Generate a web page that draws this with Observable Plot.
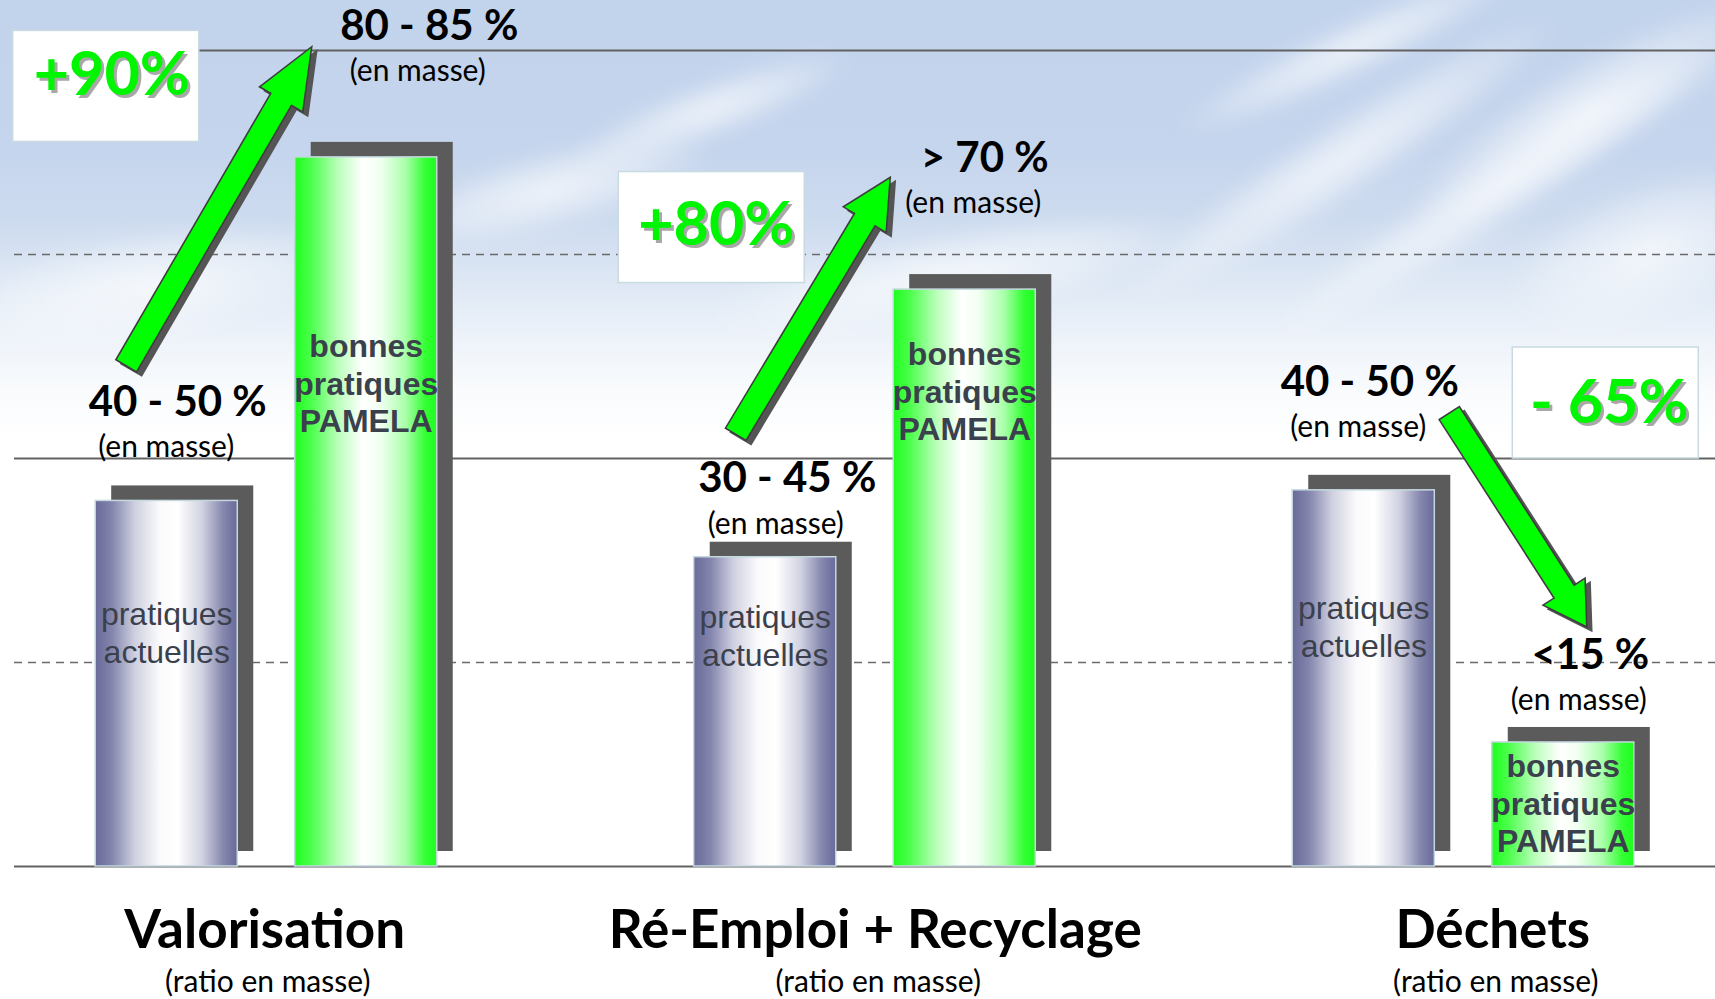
<!DOCTYPE html>
<html>
<head>
<meta charset="utf-8">
<script src="https://cdn.jsdelivr.net/npm/d3@7"></script>
<script src="https://cdn.jsdelivr.net/npm/@observablehq/plot@0.6"></script>
<style>
  html, body { margin: 0; padding: 0; width: 1715px; height: 999px; overflow: hidden; background: #fff; }
  #sky { position: absolute; left: 0; top: 0; width: 1715px; height: 470px; overflow: hidden;
    background: linear-gradient(to bottom, #c2d3ec 0px, #c5d5ed 150px, #cddbef 220px, #dde7f4 280px, #eef3fa 340px, #f9fbfd 390px, #ffffff 440px); }
  .cloud { position: absolute; border-radius: 50%; background: radial-gradient(ellipse at center, rgba(255,255,255,0.7) 0%, rgba(255,255,255,0.3) 45%, rgba(255,255,255,0) 70%); filter: blur(8px); }
  #chart { position: absolute; left: 0; top: 0; }
</style>
</head>
<body>
<div id="sky">
  <div class="cloud" style="left:1080px;top:120px;width:520px;height:80px;transform:rotate(-33deg)"></div>
  <div class="cloud" style="left:1230px;top:160px;width:520px;height:70px;transform:rotate(-33deg)"></div>
  <div class="cloud" style="left:1380px;top:60px;width:420px;height:100px;transform:rotate(-30deg)"></div>
  <div class="cloud" style="left:1160px;top:20px;width:380px;height:60px;transform:rotate(-25deg)"></div>
  <div class="cloud" style="left:1500px;top:180px;width:300px;height:140px;transform:rotate(-20deg)"></div>
  <div class="cloud" style="left:-60px;top:230px;width:420px;height:110px;transform:rotate(-8deg)"></div>
  <div class="cloud" style="left:380px;top:150px;width:340px;height:80px;transform:rotate(-15deg)"></div>
  <div class="cloud" style="left:560px;top:80px;width:300px;height:60px;transform:rotate(-20deg)"></div>
  <div class="cloud" style="left:700px;top:230px;width:500px;height:90px;transform:rotate(-10deg)"></div>
</div>
<svg width="0" height="0" style="position:absolute">
  <defs>
    <linearGradient id="gradActuelles" x1="0" x2="1" y1="0" y2="0">
      <stop offset="0%" stop-color="#686a99"/>
      <stop offset="12%" stop-color="#8486ad"/>
      <stop offset="28%" stop-color="#cfd0e0"/>
      <stop offset="45%" stop-color="#fafafc"/>
      <stop offset="58%" stop-color="#ffffff"/>
      <stop offset="75%" stop-color="#d2d3e2"/>
      <stop offset="90%" stop-color="#8688ae"/>
      <stop offset="100%" stop-color="#686a99"/>
    </linearGradient>
    <linearGradient id="gradBonnes" x1="0" x2="1" y1="0" y2="0">
      <stop offset="0%" stop-color="#1eff1e"/>
      <stop offset="12%" stop-color="#4dff4d"/>
      <stop offset="30%" stop-color="#b8ffb8"/>
      <stop offset="48%" stop-color="#ffffff"/>
      <stop offset="60%" stop-color="#f2fff2"/>
      <stop offset="78%" stop-color="#aaffaa"/>
      <stop offset="92%" stop-color="#33ff33"/>
      <stop offset="100%" stop-color="#1eff1e"/>
    </linearGradient>
  </defs>
</svg>
<div id="chart"></div>
<script>
// ---------- data ----------
const categories = ["Valorisation", "Ré-Emploi + Recyclage", "Déchets"];
const categorySubtitle = "(ratio en masse)";
const practices = ["pratiques actuelles", "bonnes pratiques PAMELA"];
const practiceLines = ["pratiques\nactuelles", "bonnes\npratiques\nPAMELA"];
const actuellesValues = [44.8, 37.9, 46.1];
const bonnesValues = [86.9, 70.7, 15.2];
const actuellesLabels = ["40 - 50 %", "30 - 45 %", "40 - 50 %"];
const bonnesLabels = ["80 - 85 %", "> 70 %", "<15 %"];
const unitLabel = "(en masse)";
const changeLabels = ["+90%", "+80%", "- 65%"];
const gridSolid = [0, 50, 100];
const gridDashed = [25, 75];

// ---------- annotation placement (px offsets from bar centre, y in data units) ----------
const valueLabelDx = [11, 63, 22, 20, 6, 27];
const valueLabelY = [56.9, 102.9, 47.5, 86.8, 59.3, 25.9];
const innerLabelY = [28.8, 59.3, 28.4, 58.3, 29.5, 7.8];
const categoryLabelDx = [98, 110, 129];
const arrowLayout = [
  {from: 0, fromDx: -40, fromY: 61.3, to: 1, toDx: -54, toY: 100.4},
  {from: 2, fromDx: -29, fromY: 52.9, to: 3, toDx: -74, toY: 84.4},
  {from: 4, fromDx: 86, fromY: 55.5, to: 5, toDx: 24, toY: 29.3}
];
const boxLayout = [
  {bar: 0, dx: -60.5, y: 95.6, textDx: -55, textY: 96.9},
  {bar: 2, dx: -53.5, y: 78.3, textDx: -49, textY: 78.5},
  {bar: 5, dx: 42.5, y: 56.8, textDx: 46, textY: 56.7}
];

// ---------- tables built from the arrays ----------
const rows = categories.flatMap((c, i) => [
  {category: c, practice: 0, key: c + "|" + practices[0], value: actuellesValues[i], label: actuellesLabels[i]},
  {category: c, practice: 1, key: c + "|" + practices[1], value: bonnesValues[i], label: bonnesLabels[i]}
]);
const xDomain = categories.flatMap((c, i) =>
  (i ? ["gap" + i] : []).concat([c + "|" + practices[0], c + "|" + practices[1]]));

const annotations = (index, scales) => {
  const x = scales.x, y = scales.y;
  const half = (x.bandwidth ? x.bandwidth() : 0) / 2;
  const cx = (bar, dx) => x(rows[bar].key) + half + dx;
  const g = d3.create("svg:g");
  arrowLayout.forEach(a => {
    const x0 = cx(a.from, a.fromDx), y0 = y(a.fromY);
    const x1 = cx(a.to, a.toDx), y1 = y(a.toY);
    const L = Math.hypot(x1 - x0, y1 - y0);
    const ux = (x1 - x0) / L, uy = (y1 - y0) / L;
    const px = -uy, py = ux;
    const sw = 12, hw = 25, hl = 0.165 * L;
    const bx = x0 + ux * (L - hl), by = y0 + uy * (L - hl);
    const pts = [
      [x0 + px * sw, y0 + py * sw],
      [bx + px * sw, by + py * sw],
      [bx + px * hw, by + py * hw],
      [x1, y1],
      [bx - px * hw, by - py * hw],
      [bx - px * sw, by - py * sw],
      [x0 - px * sw, y0 - py * sw]
    ].map(p => p.join(",")).join(" ");
    g.append("polygon").attr("points", pts).attr("transform", "translate(5,4)")
      .attr("fill", "#555").attr("stroke", "#555").attr("stroke-width", 1.5);
    g.append("polygon").attr("points", pts)
      .attr("fill", "#00ff00").attr("stroke", "#3d3d3d").attr("stroke-width", 1.6)
      .attr("stroke-linejoin", "miter");
  });
  boxLayout.forEach(b => {
    const bxc = cx(b.bar, b.dx), byc = y(b.y);
    g.append("rect").attr("x", bxc - 93).attr("y", byc - 55.5)
      .attr("width", 186).attr("height", 111)
      .attr("fill", "#fff").attr("stroke", "#c8dbe2").attr("stroke-width", 1.5);
  });
  return g.node();
};

const humanist = "Lato, 'Open Sans', sans-serif";
const arial = "'Liberation Sans', Arial, sans-serif";

const marks = [
  Plot.ruleY(gridDashed, {stroke: "#6a6a6a", strokeWidth: 1.5, strokeDasharray: "8,6"}),
  Plot.ruleY(gridSolid, {stroke: "#626262", strokeWidth: 2}),
  Plot.barY(rows, {x: "key", y: "value", fill: "#5b5b5b", dx: 16, dy: -15}),
  Plot.barY(rows.filter(d => d.practice === 0), {x: "key", y: "value", fill: "url(#gradActuelles)", stroke: "#c4d8e0", strokeWidth: 1.5}),
  Plot.barY(rows.filter(d => d.practice === 1), {x: "key", y: "value", fill: "url(#gradBonnes)", stroke: "#c4d8e0", strokeWidth: 1.5}),
  Plot.text(rows.filter(d => d.practice === 0), {x: "key", y: d => innerLabelY[rows.indexOf(d)], text: () => practiceLines[0],
    fontFamily: arial, fontSize: 32, fill: "#3b414c", lineHeight: 1.19}),
  Plot.text(rows.filter(d => d.practice === 1), {x: "key", y: d => innerLabelY[rows.indexOf(d)], text: () => practiceLines[1],
    fontFamily: arial, fontSize: 32, fontWeight: "bold", fill: "#3b414c", lineHeight: 1.17}),
  annotations,
  ...boxLayout.flatMap((b, i) => [
    Plot.text([rows[b.bar]], {x: "key", y: () => b.textY, text: () => changeLabels[i], dx: b.textDx + 3, dy: 3,
      fontFamily: humanist, fontWeight: "bold", fontSize: 61, fill: "#a8a8a8"}),
    Plot.text([rows[b.bar]], {x: "key", y: () => b.textY, text: () => changeLabels[i], dx: b.textDx,
      fontFamily: humanist, fontWeight: "bold", fontSize: 61, fill: "#00f500"})
  ]),
  ...rows.flatMap((r, i) => [
    Plot.text([r], {x: "key", y: () => valueLabelY[i], text: "label", dx: valueLabelDx[i],
      fontFamily: humanist, fontWeight: "bold", fontSize: 42, fill: "#000"}),
    Plot.text([r], {x: "key", y: () => valueLabelY[i], text: () => unitLabel, dx: valueLabelDx[i] - 11.5, dy: 45,
      fontFamily: humanist, fontSize: 30, fill: "#000"})
  ]),
  ...categories.flatMap((c, i) => [
    Plot.text([rows[2 * i]], {x: "key", frameAnchor: "bottom", lineAnchor: "middle", text: () => c, dx: categoryLabelDx[i], dy: 65,
      fontFamily: humanist, fontWeight: "bold", fontSize: 53, fill: "#000"}),
    Plot.text([rows[2 * i]], {x: "key", frameAnchor: "bottom", lineAnchor: "middle", text: () => categorySubtitle, dx: categoryLabelDx[i] + 3, dy: 116,
      fontFamily: humanist, fontSize: 30, fill: "#000"})
  ])
];

const chart = Plot.plot({
  width: 1715,
  height: 999,
  marginTop: 50,
  marginBottom: 133,
  marginLeft: 14,
  marginRight: 0,
  style: {background: "transparent", overflow: "visible"},
  x: {type: "band", domain: xDomain, paddingInner: 0.288, paddingOuter: 0.407, round: false, axis: null},
  y: {domain: [0, 100], axis: null},
  marks
});
document.getElementById("chart").appendChild(chart);
</script>
</body>
</html>
